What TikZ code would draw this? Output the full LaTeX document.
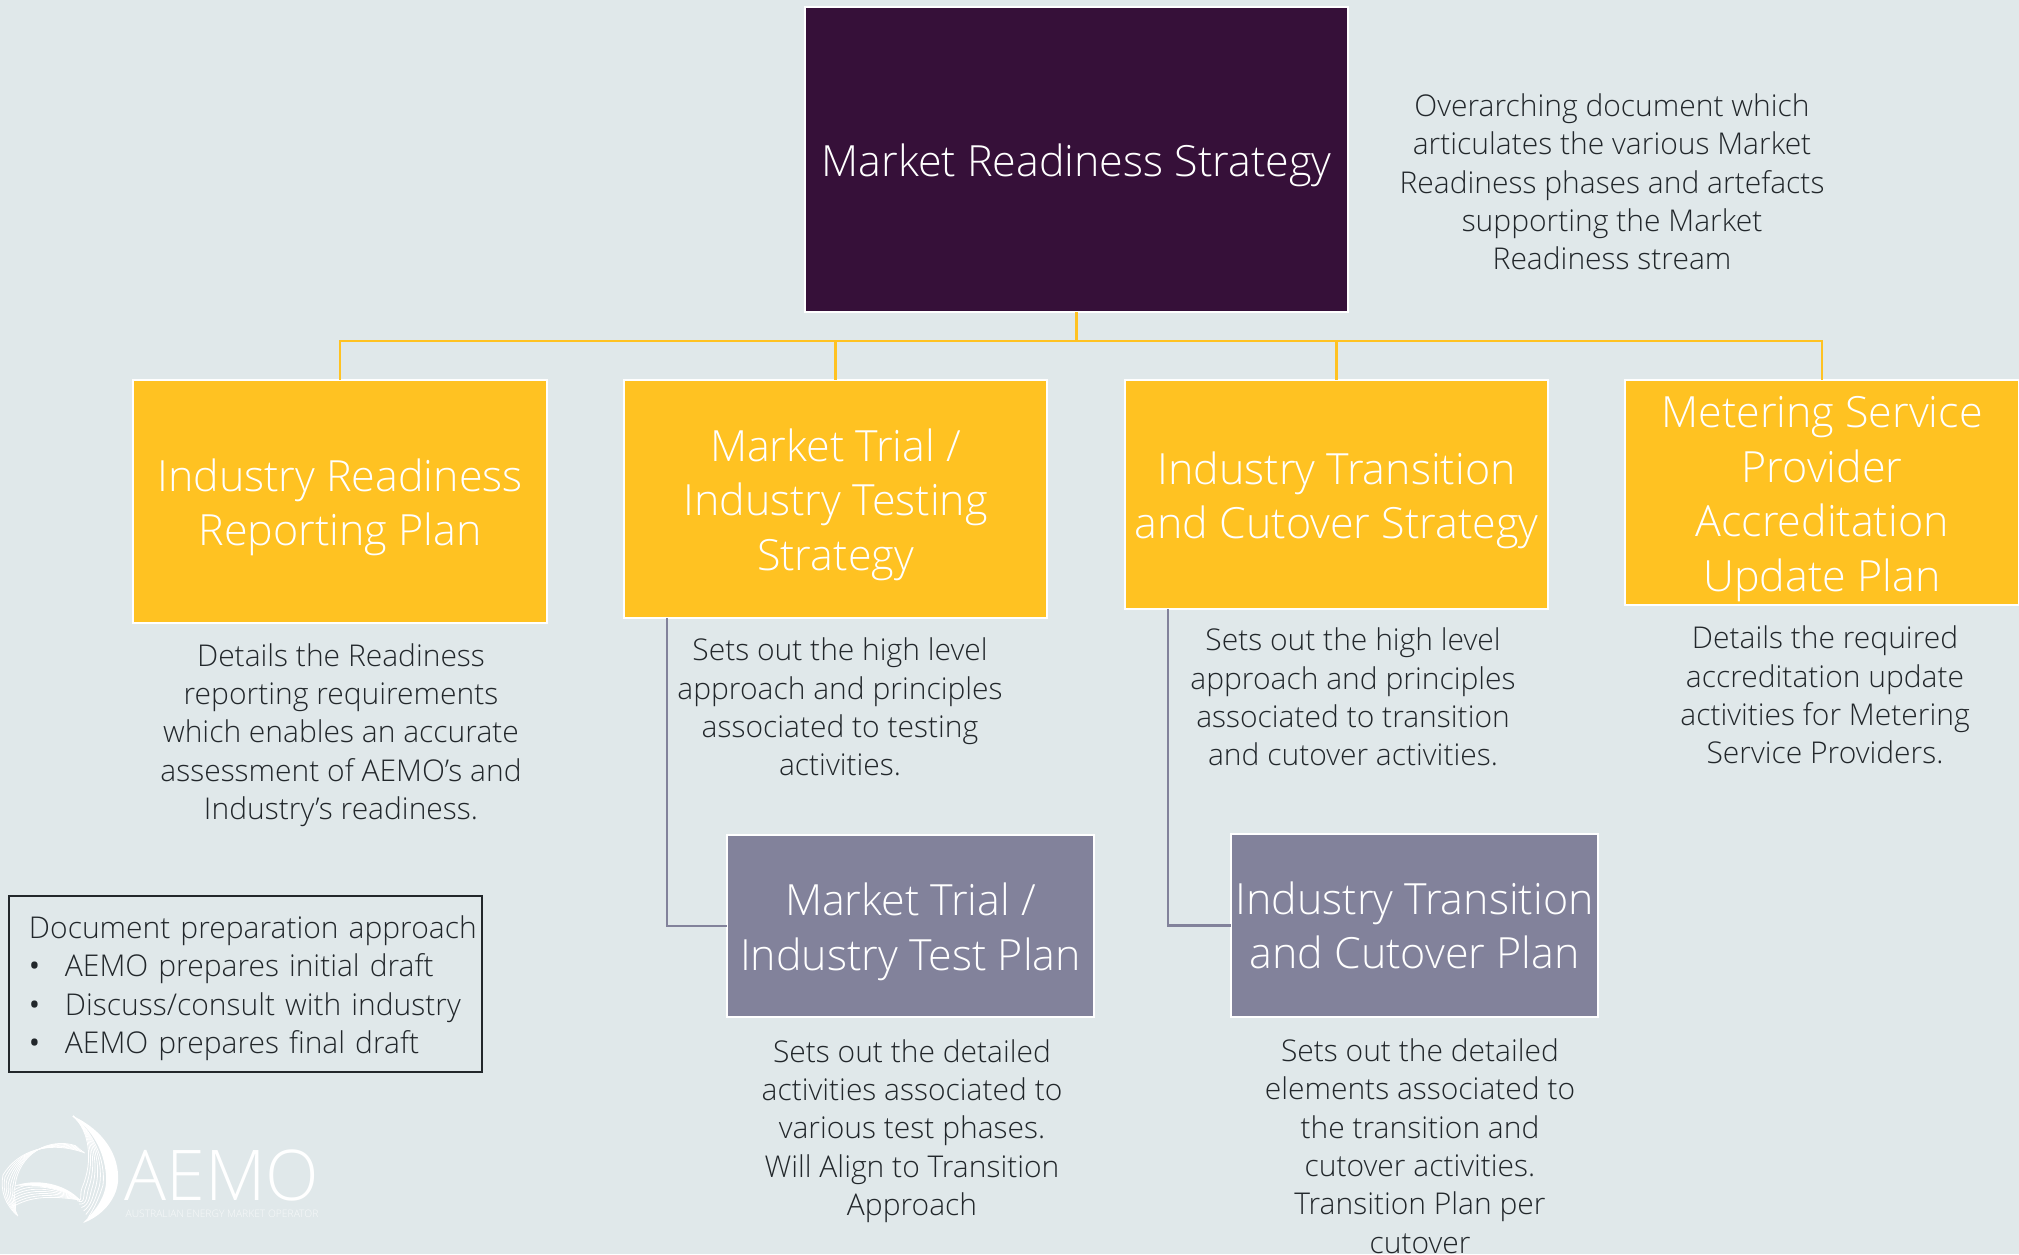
\documentclass[tikz,border=0pt]{standalone}
\usepackage{fontspec}
\setmainfont{Open Sans Light}
\newfontfamily\bulletfont{Open Sans}
\definecolor{bgc}{HTML}{E0E8EA}
\definecolor{purp}{HTML}{361039}
\definecolor{yel}{HTML}{FFC222}
\definecolor{gry}{HTML}{82829B}
\definecolor{txt}{HTML}{22272B}
\newcommand{\notebullet}{\makebox[36pt][l]{\bulletfont\fontsize{30}{38.3}\selectfont •}}
\newcommand{\toprule}{\rule{0pt}{44pt}}
\tikzset{
 box/.style={anchor=north west,draw=white,line width=2.5pt,inner sep=0pt,outer sep=0pt,align=center,text=white,font=\fontsize{43}{54.5}\selectfont},
 topbox/.style={box,fill=purp},
 yelbox/.style={box,fill=yel},
 grybox/.style={box,fill=gry},
 desc/.style={align=center,text=txt,inner sep=0pt,font=\fontsize{30}{38.3}\selectfont},
 notebox/.style={anchor=north west,draw=txt,line width=2pt,inner sep=0pt,outer sep=0pt,text=txt,align=left,text width=473pt,font=\fontsize{30}{38.3}\selectfont},
 busline/.style={draw=yel,line width=2.5pt},
 sideline/.style={draw=gry,line width=2.5pt},
 swoosh/.style={draw=white,line width=.8pt}
}
\begin{document}
\begin{tikzpicture}[x=1pt,y=-1pt]
\useasboundingbox (0,0) rectangle (2019,1254);
\fill[bgc] (0,0) rectangle (2019,1254);
\node[topbox,minimum width=543pt,minimum height=305pt] (top) at (805,7) {\toprule Market Readiness Strategy};
\node[yelbox,minimum width=414pt,minimum height=243pt] (y1) at (133,380) {\toprule Industry Readiness\\Reporting Plan};
\node[yelbox,minimum width=423pt,minimum height=238pt] (y2) at (624,380) {\toprule Market Trial /\\Industry Testing\\Strategy};
\node[yelbox,minimum width=423pt,minimum height=229pt] (y3) at (1125,380) {\toprule Industry Transition\\and Cutover Strategy};
\node[yelbox,minimum width=394pt,minimum height=225pt] (y4) at (1625,380) {\toprule Metering Service\\Provider\\Accreditation\\Update Plan};
\node[grybox,minimum width=367pt,minimum height=182pt] (g1) at (727,835) {\toprule Market Trial /\\Industry Test Plan};
\node[grybox,minimum width=367pt,minimum height=183pt] (g2) at (1231,834) {Industry Transition\\and Cutover Plan};
\coordinate (c2) at (667,618);
\coordinate (c3) at (1168,609);
\draw[busline] (top.south) -- ++(0,29) -| (y1.north);
\draw[busline] (top.south) -- ++(0,29) -| (y2.north);
\draw[busline] (top.south) -- ++(0,29) -| (y3.north);
\draw[busline] (top.south) -- ++(0,29) -| (y4.north);
\draw[sideline] (c2) |- (g1.west);
\draw[sideline] (c3) |- (g2.west);
\node[desc] (d0) at (1612,182) {Overarching document which\\articulates the various Market\\Readiness phases and artefacts\\supporting the Market\\Readiness stream};
\node[desc] (d1) at (341,735) {Details the Readiness\\reporting requirements\\which enables an accurate\\assessment of AEMO’s and\\Industry’s readiness.};
\node[desc] (d2) at (840,707) {Sets out the high level\\approach and principles\\associated to testing\\activities.};
\node[desc] (d3) at (1353,697) {Sets out the high level\\approach and principles\\associated to transition\\and cutover activities.};
\node[desc] (d4) at (1825,695) {Details the required\\accreditation update\\activities for Metering\\Service Providers.};
\node[desc] (d5) at (912,1131) {Sets out the detailed\\activities associated to\\various test phases.\\Will Align to Transition\\Approach};
\node[desc] (d6) at (1420,1146) {Sets out the detailed\\elements associated to\\the transition and\\cutover activities.\\Transition Plan per\\cutover};
\node[notebox,minimum height=176pt] (note) at (9,896) {\rule{0pt}{31pt}\hspace*{20pt}Document preparation approach\\\hspace*{20pt}\notebullet AEMO prepares initial draft\\\hspace*{20pt}\notebullet Discuss/consult with industry\\\hspace*{20pt}\notebullet AEMO prepares final draft};
% AEMO logo
\begin{scope}
\clip (0,1080) rectangle (360,1254);
\fill[white] (73,1116) .. controls (103,1130) and (120,1155) .. (118,1182) .. controls (116,1200) and (102,1216) .. (83,1223) .. controls (96,1210) and (108,1195) .. (106,1175) .. controls (104,1150) and (92,1130) .. (73,1116) -- cycle;
\foreach \i in {0,...,6} {
 \draw[swoosh] (73,1116) .. controls ({92-\i*0.5},1130) and ({106-\i*2},1160) .. ({103-\i*3.5},{1185+\i*0.5}) .. controls ({100-\i*3.5},1195) and ({96-\i*2},1205) .. ({88-\i*2.2},{1218-\i*3.5});
 \draw[swoosh] ({85-\i*1.5},{1153-\i*1.2}) .. controls (50,{1140-\i*0.5}) and ({18-\i*0},{1150+\i*0.5}) .. ({3+\i*2},{1175+\i*2});
 \draw[swoosh] ({3+\i*2},{1175+\i*2}) .. controls ({0+\i*2},1190) and ({5+\i*2},1205) .. ({18-\i*0.5},{1216-\i*1});
 \draw[swoosh] (80,1200) .. controls (55,{1184+\i*2}) and (30,{1180+\i*2.5}) .. ({14-\i*0.5},{1190+\i*3});
}
\fill[white] (80,1200) .. controls (65,1183) and (35,1178) .. (14,1186) .. controls (35,1184) and (62,1188) .. (80,1200) -- cycle;
\end{scope}
\node[text=white,inner sep=0pt,font=\fontsize{70}{70}\selectfont] (logo) at (222,1175) {AEMO};
\node[text=white,opacity=.75,inner sep=0pt,font=\fontsize{10.3}{11}\selectfont] (logosub) at (222,1214) {AUSTRALIAN ENERGY MARKET OPERATOR};
\end{tikzpicture}
\end{document}
